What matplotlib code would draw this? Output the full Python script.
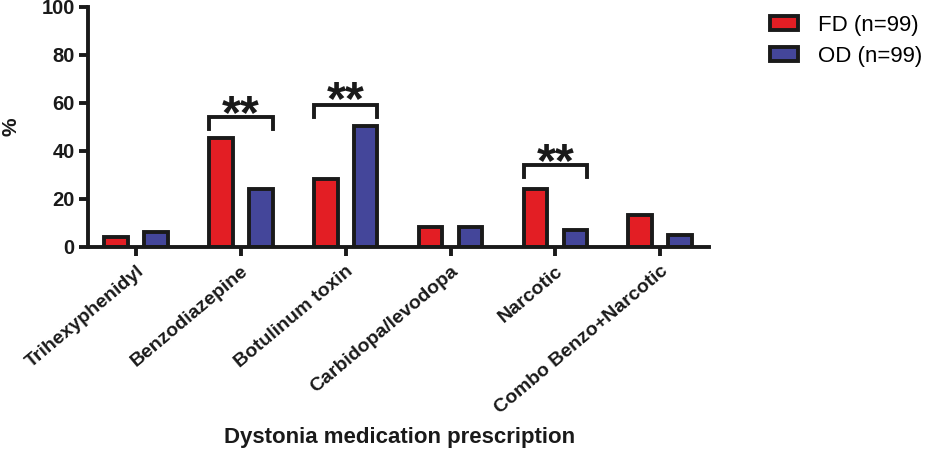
import matplotlib
matplotlib.use('Agg')
from matplotlib import pyplot as plt
from matplotlib.patches import Patch
import matplotlib.transforms as mtransforms
import numpy as np

categories = ['Trihexyphenidyl', 'Benzodiazepine', 'Botulinum toxin',
              'Carbidopa/levodopa', 'Narcotic', 'Combo Benzo+Narcotic']
fd = [4.0, 45.5, 28.3, 8.1, 24.2, 13.1]
od = [6.1, 24.2, 50.5, 8.1, 7.1, 5.1]
series_labels = ['FD (n=99)', 'OD (n=99)']
sig_idx = [1, 2, 4]
sig_heights = [54, 59, 34]
star_heights = [61, 66.5, 41]
yticks = [0, 20, 40, 60, 80, 100]

plt.rcParams['font.family'] = ['Liberation Sans', 'DejaVu Sans']
plt.rcParams['font.weight'] = 'bold'

red = '#e31e24'
blue = '#44469a'
ink = '#1a1a1a'
lw = 2.8

fig = plt.figure(figsize=(9.25, 4.53), dpi=100)
ax = fig.add_axes([0.095, 0.455, 0.672, 0.53])

x = np.arange(len(categories))
w = 0.225
off = 0.19
ax.bar(x - off, fd, w, color=red, edgecolor=ink, linewidth=lw, label=series_labels[0])
ax.bar(x + off, od, w, color=blue, edgecolor=ink, linewidth=lw, label=series_labels[1])

star_fs = 35
for i, h, sh in zip(sig_idx, sig_heights, star_heights):
    l, r = i - off - w / 2, i + off + w / 2
    ax.plot([l, l, r, r], [h - 5, h, h, h - 5], color=ink, lw=lw,
            solid_joinstyle='miter', clip_on=False)
    ax.annotate('**', xy=(i, sh), xytext=(0, -0.56 * star_fs), textcoords='offset points',
                ha='center', va='baseline', fontsize=star_fs, fontweight='bold', color=ink)

ax.set_xlim(-0.46, 5.47)
ax.set_ylim(0, 100)
ax.set_yticks(yticks)
ax.set_xticks(x)
ax.set_xticklabels(categories, rotation=40, ha='right', va='top',
                   rotation_mode='anchor', fontsize=14, fontweight='bold')
shift = mtransforms.ScaledTranslation(0.07, 0, fig.dpi_scale_trans)
for lab in ax.get_xticklabels():
    lab.set_transform(lab.get_transform() + shift)
for lab in ax.get_yticklabels():
    lab.set_fontsize(14.5)
    lab.set_fontweight('bold')

for s in ['top', 'right']:
    ax.spines[s].set_visible(False)
for s in ['left', 'bottom']:
    ax.spines[s].set_linewidth(lw)
    ax.spines[s].set_color(ink)
ax.tick_params(width=lw, length=6.5, color=ink, labelcolor=ink)
ax.tick_params(axis='x', pad=5)
ax.tick_params(axis='y', pad=3)

ax.set_ylabel('%', fontsize=15, fontweight='bold', color=ink)
ax.yaxis.set_label_coords(-0.108, 0.5)
fig.text(0.432, 0.035, 'Dystonia medication prescription', ha='center', va='center',
         fontsize=16, fontweight='bold', color=ink)

handles = [Patch(facecolor=red, edgecolor=ink, linewidth=lw),
           Patch(facecolor=blue, edgecolor=ink, linewidth=lw)]
fig.legend(handles, series_labels, loc='upper left', bbox_to_anchor=(770 / 925, 0.967),
           frameon=False, handlelength=1.26, handleheight=0.54,
           labelspacing=0.45, handletextpad=0.9, borderpad=0, borderaxespad=0,
           prop={'weight': 'normal', 'size': 16})

fig.savefig('out.png', dpi=100, facecolor='white')
